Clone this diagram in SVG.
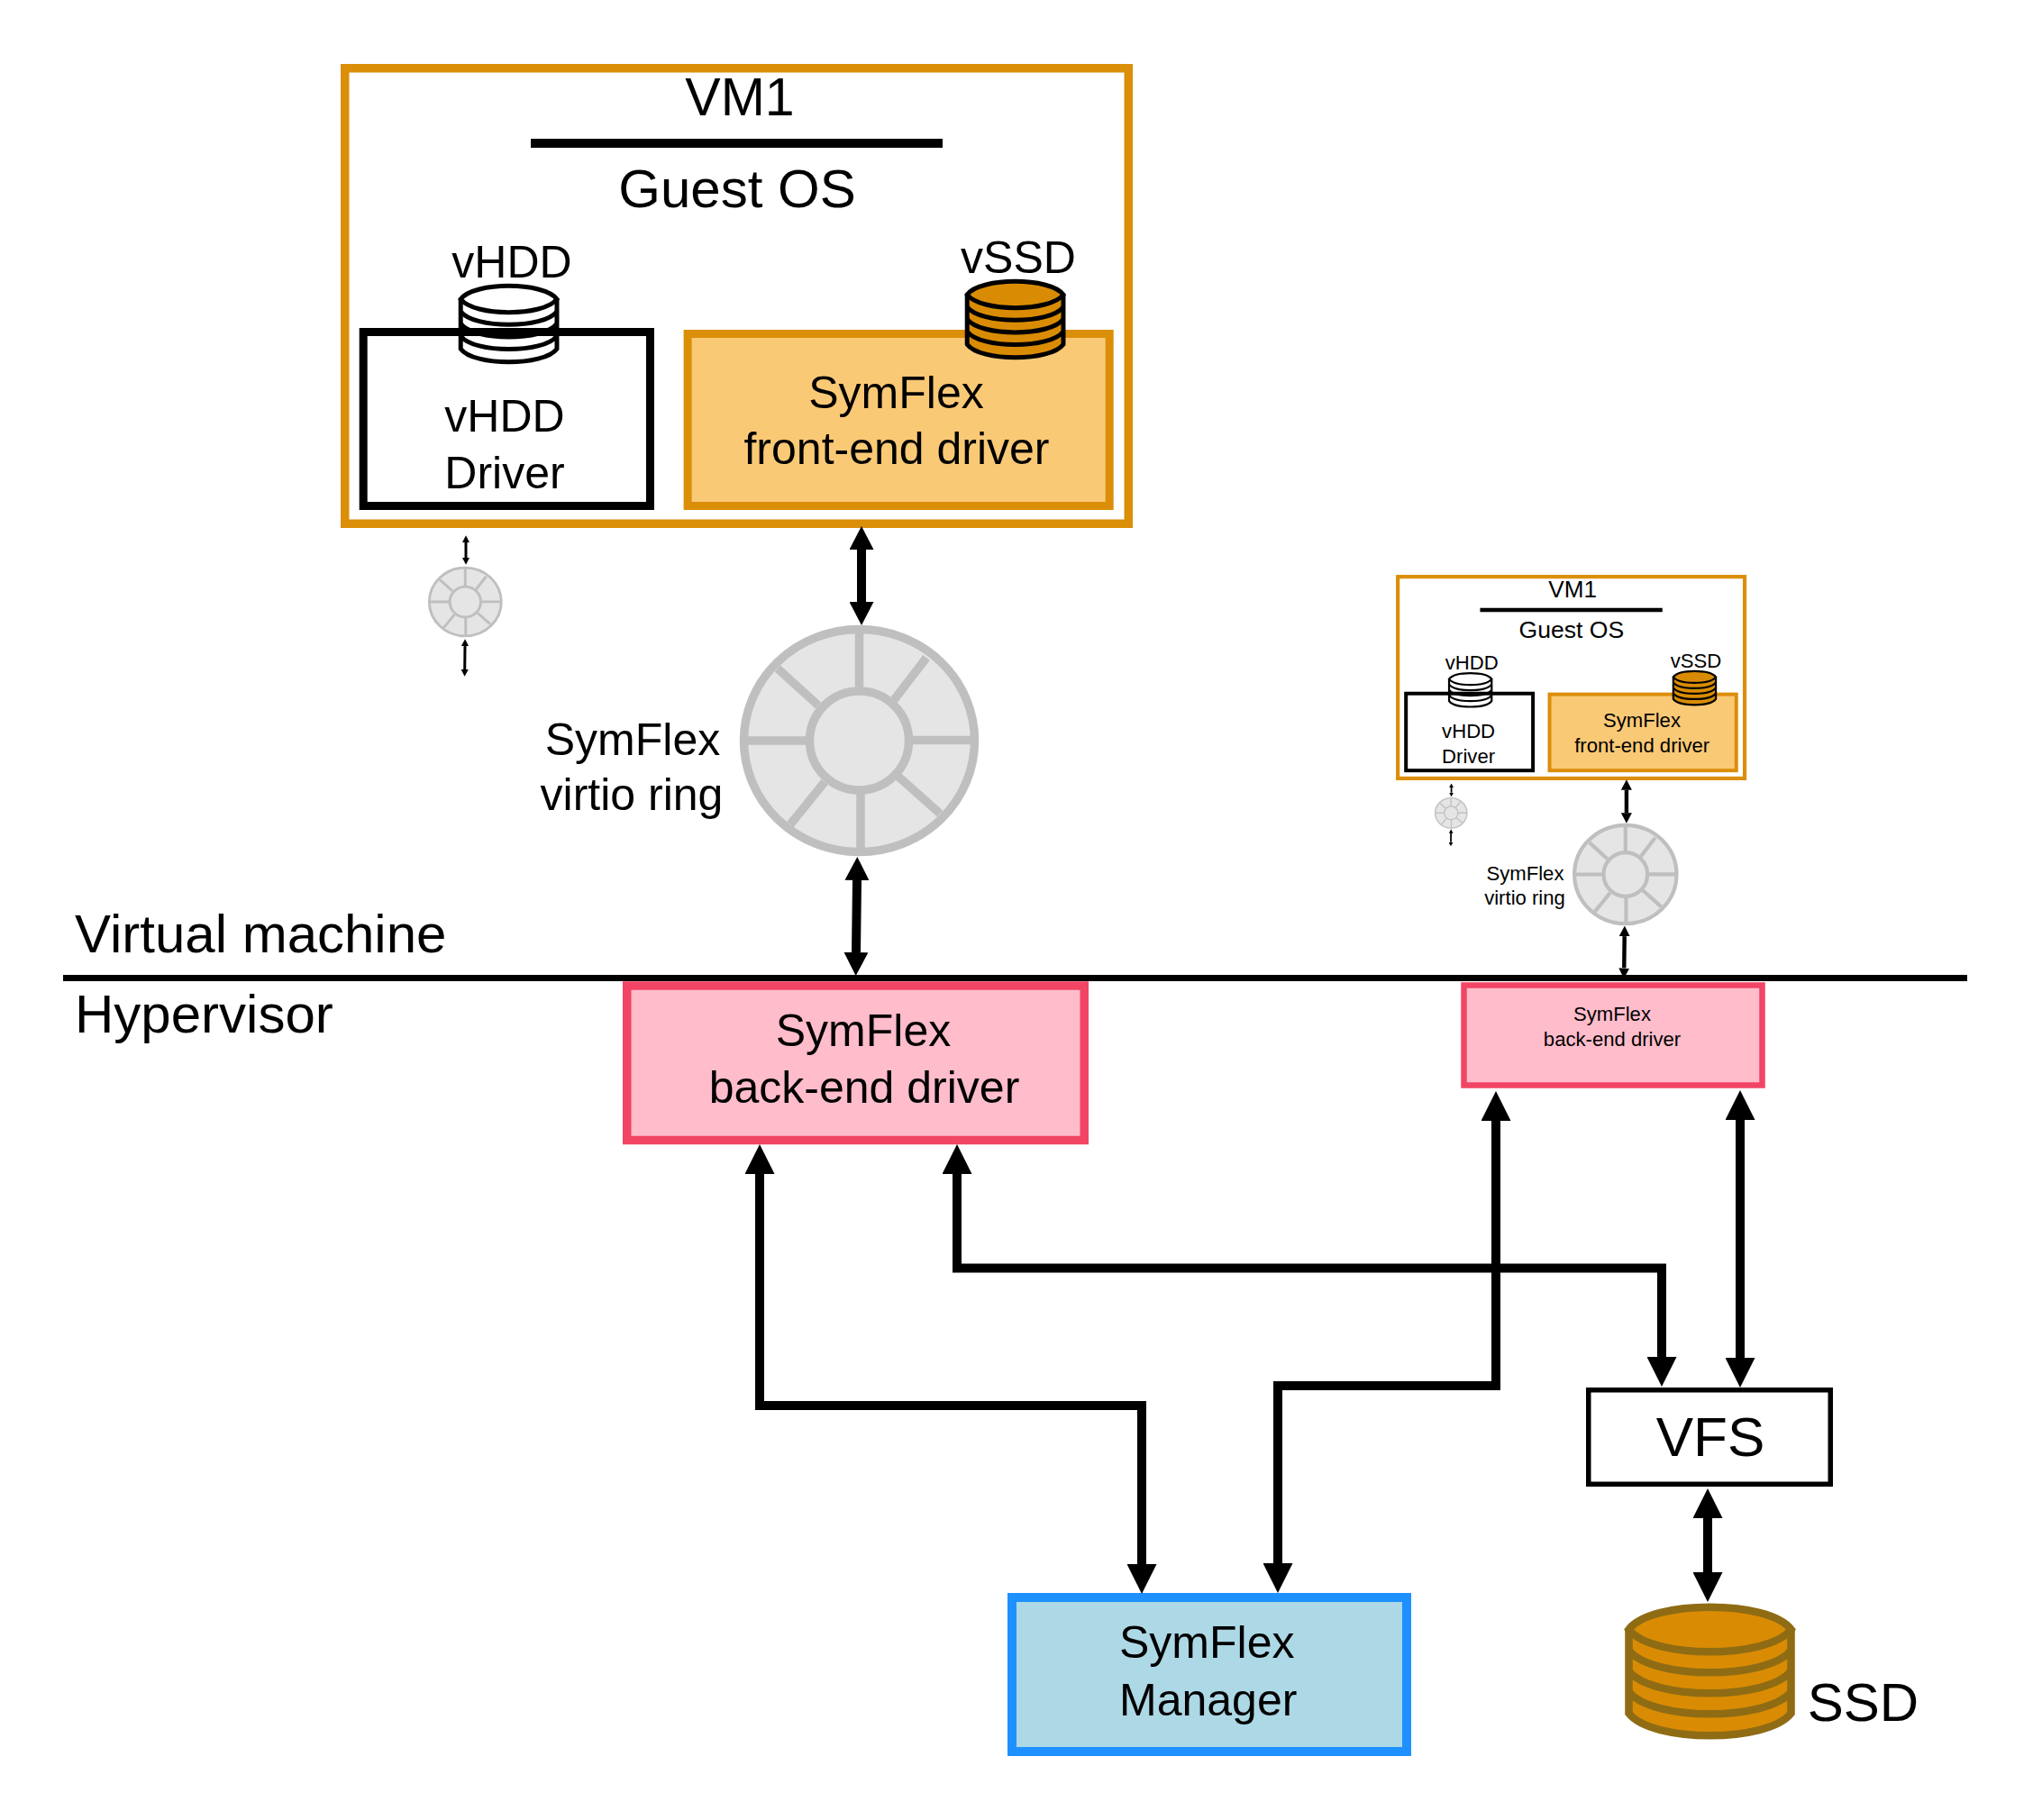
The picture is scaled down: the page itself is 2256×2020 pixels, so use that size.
<svg xmlns="http://www.w3.org/2000/svg" xmlns:xlink="http://www.w3.org/1999/xlink" width="2256" height="2020" viewBox="0 0 2256 2020">
<style>
text{font-family:"Liberation Sans",Arial,sans-serif;fill:#000;text-anchor:middle}
.t50{font-size:50px}.t59{font-size:59px}.t60{font-size:60px}.t62{font-size:62px}.t22{font-size:22.1px}
.st{text-anchor:start}
.vm{fill:#fff;stroke:#db8e08;stroke-width:9.5}
.bar{stroke:#000;stroke-width:10}
.hdd{fill:#fff;stroke:#000;stroke-width:9}
.fe{fill:#fac976;stroke:#db8e08;stroke-width:9}
.be{fill:#ffbccb;stroke:#f24464}
.mgr{fill:#add8e6;stroke:#1e90ff;stroke-width:10}
.vfs{fill:#fff;stroke:#000;stroke-width:5.5}
.ring{fill:#e5e5e5;stroke:#bfbfbf;stroke-width:9.5}
.cylb{fill:none;stroke:#000;stroke-width:8.4}
.cylo{fill:#d98c03;stroke:#000;stroke-width:8.4}
.cyls{fill:#d98c03;stroke:#8f6c14;stroke-width:8.6}
.c{fill:none;stroke:#000;stroke-width:10;stroke-linejoin:miter;marker-start:url(#h);marker-end:url(#h)}
.cm{fill:none;stroke:#000;stroke-width:10;marker-start:url(#hm);marker-end:url(#hm)}
.cs{fill:none;stroke:#000;stroke-width:3;marker-start:url(#hm);marker-end:url(#hm)}
.cx{fill:none;stroke:#000;stroke-width:4;marker-start:url(#hm);marker-end:url(#hm)}
</style>
<defs>
<marker id="h" viewBox="0 -16.5 33 33" refX="0" refY="0" markerWidth="3.3" markerHeight="3.3" orient="auto-start-reverse" markerUnits="strokeWidth"><path d="M0-16.5L33 0L0 16.5Z" fill="#000"/></marker>
<marker id="hm" viewBox="0 -13.5 26 27" refX="0" refY="0" markerWidth="2.6" markerHeight="2.7" orient="auto-start-reverse" markerUnits="strokeWidth"><path d="M0-13.5L26 0L0 13.5Z" fill="#000"/></marker>
<g id="cyl">
<path d="M-90 0V93C-65 126 65 126 90 93V0"/>
<path d="M-90 23C-65 56 65 56 90 23M-90 46C-65 79 65 79 90 46M-90 69C-65 102 65 102 90 69" fill="none"/>
<path d="M-90 0C-65-33 65-33 90 0C65 33-65 33-90 0Z"/>
</g>
<g id="ringshape">
<ellipse cx="0" cy="0" rx="128" ry="123.5"/>
<path d="M0-123V-55M1.500 55V123M-128 0H-55M55-.5H128M-90.500-80L-45.500-39M74.500-92L38.500-45M-76.500 93L-38.500 46M43.500 40L89.500 81" fill="none"/>
<circle cx="0" cy="0" r="55"/>
</g>
</defs>

<g id="divider"><line x1="70" y1="1085.500" x2="2183" y2="1085.500" stroke="#000" stroke-width="7"/></g>
<g id="label-vm"><text class="t60 st" x="83" y="1057">Virtual machine</text></g>
<g id="label-hv"><text class="t60 st" x="83" y="1146">Hypervisor</text></g>

<g id="vm1">
<rect class="vm" x="382.750" y="75.750" width="869.500" height="505.500"/>
<text class="t59" x="821" y="128">VM1</text>
<line class="bar" x1="589" y1="159" x2="1046" y2="159"/>
<text class="t60" x="818" y="230">Guest OS</text>
<text class="t50" x="568" y="308">vHDD</text>
<text class="t50" x="1130" y="303">vSSD</text>
<g id="vhdd-driver">
<rect class="hdd" x="403.200" y="368.500" width="318.300" height="193"/>
<text class="t50" x="560" y="479">vHDD</text>
<text class="t50" x="560" y="542">Driver</text>
</g>
<g id="frontend-driver">
<rect class="fe" x="763.100" y="370.500" width="468.100" height="191"/>
<text class="t50" x="994.500" y="453">SymFlex</text>
<text class="t50" x="995" y="515">front-end driver</text>
</g>
<use class="cylb" xlink:href="#cyl" href="#cyl" transform="translate(564.600 332) scale(.593)"/>
<use class="cylo" xlink:href="#cyl" href="#cyl" transform="translate(1126.600 327) scale(.593)"/>
</g>

<g id="ring-mini"><use class="ring" xlink:href="#ringshape" href="#ringshape" transform="translate(516.300 668) scale(.312 .307)"/></g>

<g id="virtio-ring">
<use class="ring" xlink:href="#ringshape" href="#ringshape" transform="translate(953.500 822)"/>
<text class="t50" x="702" y="837.500">SymFlex</text>
<text class="t50" x="701" y="898.500">virtio ring</text>
</g>

<g id="backend-driver">
<rect class="be" x="695.750" y="1094" width="507.500" height="171.500" stroke-width="9.500"/>
<text class="t50" x="958" y="1161">SymFlex</text>
<text class="t50" x="959" y="1224">back-end driver</text>
</g>

<g id="manager">
<rect class="mgr" x="1123" y="1773" width="438" height="171"/>
<text class="t50 st" x="1242" y="1839.500">SymFlex</text>
<text class="t50 st" x="1242" y="1903.500">Manager</text>
</g>

<g id="vfs">
<rect class="vfs" x="1762.750" y="1542.750" width="268.500" height="104.500"/>
<text class="t62" x="1898" y="1616">VFS</text>
</g>

<g id="ssd">
<use class="cyls" xlink:href="#cyl" href="#cyl" transform="translate(1897.500 1808.500)"/>
<text class="t60" x="2067.500" y="1910">SSD</text>
</g>

<g id="vm1-small" transform="translate(1381.700 606.600) scale(.4427)">
<rect class="vm" x="382.750" y="75.750" width="869.500" height="505.500"/>
<text class="t59" x="821" y="128">VM1</text>
<line class="bar" x1="589" y1="159" x2="1046" y2="159"/>
<text class="t60" x="818" y="230">Guest OS</text>
<text class="t50" x="568" y="308">vHDD</text>
<text class="t50" x="1130" y="303">vSSD</text>
<rect class="hdd" x="403.200" y="368.500" width="318.300" height="193"/>
<text class="t50" x="560" y="479">vHDD</text>
<text class="t50" x="560" y="542">Driver</text>
<rect class="fe" x="763.100" y="370.500" width="468.100" height="191"/>
<text class="t50" x="994.500" y="453">SymFlex</text>
<text class="t50" x="995" y="515">front-end driver</text>
<use class="cylb" xlink:href="#cyl" href="#cyl" transform="translate(564.600 332) scale(.593)"/>
<use class="cylo" xlink:href="#cyl" href="#cyl" transform="translate(1126.600 327) scale(.593)"/>
<use class="ring" xlink:href="#ringshape" href="#ringshape" transform="translate(516.300 668) scale(.312 .307)"/>
<use class="ring" xlink:href="#ringshape" href="#ringshape" transform="translate(953.500 822)"/>
<text class="t50" x="702" y="837.500">SymFlex</text>
<text class="t50" x="701" y="898.500">virtio ring</text>
</g>

<g id="backend-driver-small">
<rect class="be" x="1624.500" y="1093.500" width="331" height="111" stroke-width="6.500"/>
<text class="t22" x="1789" y="1133">SymFlex</text>
<text class="t22" x="1789" y="1161">back-end driver</text>
</g>

<g id="connectors">
<line class="cm" x1="956" y1="610" x2="956" y2="668"/>
<line class="cm" x1="951" y1="977" x2="950" y2="1057"/>
<line class="cs" x1="517" y1="602" x2="517" y2="619"/>
<line class="cs" x1="516" y1="717" x2="515.700" y2="743"/>
<path class="c" d="M843 1303V1560H1267V1736"/>
<path class="c" d="M1062 1303V1407.500H1844V1506"/>
<path class="c" d="M1418 1735V1538H1660V1244"/>
<line class="c" x1="1931" y1="1243" x2="1931" y2="1507"/>
<line class="c" x1="1895" y1="1685" x2="1895" y2="1745"/>
<g id="connectors-small" transform="translate(1381.700 606.600) scale(.4427)">
<line class="cm" x1="956" y1="610" x2="956" y2="668"/>
<line class="cm" x1="951" y1="977" x2="950" y2="1057"/>
<line class="cx" x1="517" y1="604" x2="517" y2="617"/>
<line class="cx" x1="516" y1="719" x2="515.700" y2="741"/>
</g>
</g>
</svg>
